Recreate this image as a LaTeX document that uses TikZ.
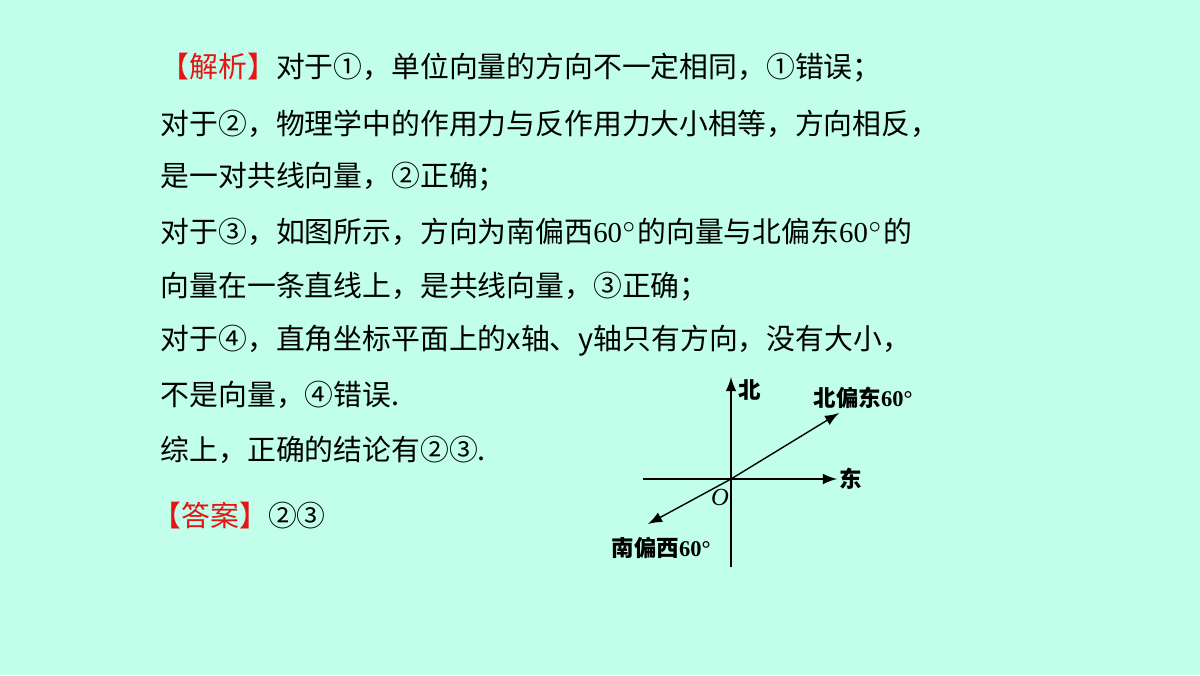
\documentclass[tikz,border=0pt]{standalone}
\usepackage{fontspec}
\usepackage{tikz}
\setmainfont{Liberation Serif}
\newfontfamily\cjk{Noto Sans CJK SC}
\definecolor{bgaqua}{RGB}{193,255,234}
\definecolor{hintred}{RGB}{230,20,20}
\tikzset{
  txtline/.style={anchor=west, inner sep=0pt, font=\cjk\fontsize{8.2pt}{10pt}\selectfont},
  figlabel/.style={inner sep=0pt, font=\cjk\bfseries\fontsize{6.4pt}{8pt}\selectfont},
  axis/.style={-latex, thin},
}
\newcommand{\angdeg}[1]{{\rmfamily #1$^{\circ}$}}
\begin{document}
\begin{tikzpicture}[x=0.01cm, y=-0.01cm]
    \fill[bgaqua] (0,0) rectangle (1200,675);
    \useasboundingbox (0,0) rectangle (1200,675);
    % solution text
    \node[txtline] (l1) at (160,68) {\textcolor{hintred}{【解析】}对于①，单位向量的方向不一定相同，①错误；};
    \node[txtline] (l2) at (160,124) {对于②，物理学中的作用力与反作用力大小相等，方向相反，};
    \node[txtline] (l3) at (160,177) {是一对共线向量，②正确；};
    \node[txtline] (l4) at (160,232) {对于③，如图所示，方向为南偏西\angdeg{60}的向量与北偏东\angdeg{60}的};
    \node[txtline] (l5) at (160,287) {向量在一条直线上，是共线向量，③正确；};
    \node[txtline] (l6) at (160,341) {对于④，直角坐标平面上的x轴、y轴只有方向，没有大小，};
    \node[txtline] (l7) at (160,395) {不是向量，④错误.};
    \node[txtline] (l8) at (160,450) {综上，正确的结论有②③.};
    \node[txtline] (ans) at (152,516) {\textcolor{hintred}{【答案】}②③};
    % figure
    \coordinate (O) at (731,479);
    \coordinate (south) at (731,567);
    \coordinate (north) at (731,377);
    \coordinate (west) at (643,479);
    \coordinate (east) at (837,479);
    \coordinate (ne) at (839,413);
    \coordinate (sw) at (648,524);
    \draw[axis] (south) -- (north);
    \draw[axis] (west) -- (east);
    \draw[axis] (O) -- (ne);
    \draw[axis] (O) -- (sw);
    \node[figlabel] (nlab) at (750,390) {北};
    \node[figlabel] (elab) at (851,479) {东};
    \node[figlabel] (nelab) at (863,398) {北偏东{\rmfamily 60°}};
    \node[figlabel] (swlab) at (661,548) {南偏西{\rmfamily 60°}};
    \node[inner sep=0pt, font=\rmfamily\itshape\fontsize{7pt}{8pt}\selectfont] (olab) at (720,497) {O};
\end{tikzpicture}
\end{document}
